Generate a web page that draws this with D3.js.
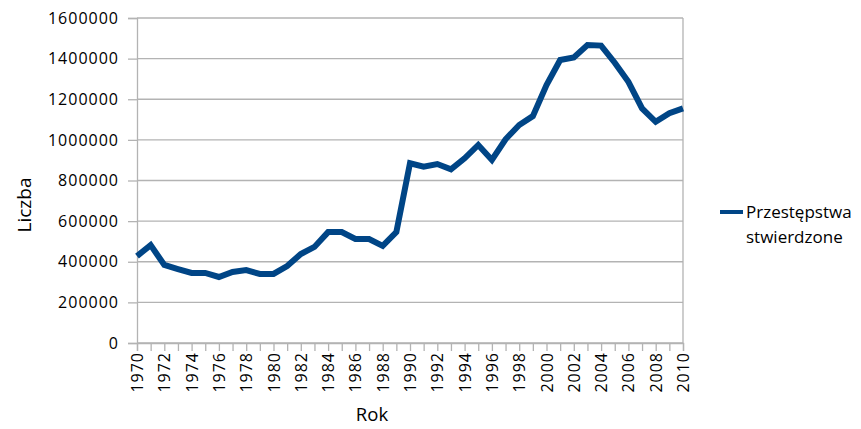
<!DOCTYPE html>
<html>
<head>
<meta charset="utf-8">
<script src="https://cdn.jsdelivr.net/npm/d3@7"></script>
<style>
  html, body { margin: 0; padding: 0; background: #fff; }
  svg { display: block; }
  text { font-family: "Open Sans", "DejaVu Sans", sans-serif; fill: #000; }
</style>
</head>
<body>
<svg id="chart" width="861" height="429"></svg>
<script>
// Stwierdzone przestępstwa w latach 1970–2010
const years = d3.range(1970, 2011);
const crimes = [
  428000, 482000, 384000, 364000, 345000, 345000, 325000, 350000, 359000, 340000,
  340000, 379000, 438000, 473000, 546000, 546000, 512000, 512000, 478000, 546000,
  885000, 868000, 881000, 855000, 909000, 975000, 901000, 1003000, 1073000, 1117000,
  1270000, 1393000, 1406000, 1467000, 1464000, 1380000, 1286000, 1155000, 1089000, 1131000,
  1155000
];
const yTicks = [0, 200000, 400000, 600000, 800000, 1000000, 1200000, 1400000, 1600000];
const xLabelYears = d3.range(1970, 2011, 2);
const seriesName = ["Przestępstwa", "stwierdzone"];

const svg = d3.select("#chart");
const plot = { left: 137, right: 683, top: 18, bottom: 343 };
const gridColor = "#b3b3b3";
const lineColor = "#004586";

const x = d3.scaleLinear().domain([1970, 2010]).range([plot.left, plot.right]);
const y = d3.scaleLinear().domain([0, 1600000]).range([plot.bottom, plot.top]);

// poziome linie siatki
svg.append("g").selectAll("line").data(yTicks).join("line")
  .attr("x1", plot.left).attr("x2", plot.right)
  .attr("y1", d => y(d)).attr("y2", d => y(d))
  .attr("stroke", gridColor).attr("stroke-width", 1.3);

// prawa krawędź obszaru wykresu
svg.append("line")
  .attr("x1", plot.right).attr("x2", plot.right).attr("y1", plot.top).attr("y2", plot.bottom)
  .attr("stroke", gridColor).attr("stroke-width", 1.3);

// oś Y
const yAxis = svg.append("g")
  .attr("transform", `translate(${plot.left},0)`)
  .call(d3.axisLeft(y).tickValues(yTicks).tickSize(9).tickPadding(9).tickFormat(d3.format("d")));
yAxis.select(".domain").attr("stroke", gridColor).attr("stroke-width", 1.3);
yAxis.selectAll(".tick line").attr("stroke", gridColor).attr("stroke-width", 1.3);
yAxis.selectAll("text")
  .style("font-size", "16px")
  .style("letter-spacing", "1px")
  .attr("fill", "#000");

// oś X
const xAxis = svg.append("g")
  .attr("transform", `translate(0,${plot.bottom})`)
  .call(d3.axisBottom(x).tickValues(years).tickSize(8).tickFormat(""));
xAxis.select(".domain").attr("stroke", gridColor).attr("stroke-width", 1.3);
xAxis.selectAll(".tick line").attr("stroke", gridColor).attr("stroke-width", 1.3);

svg.append("g").selectAll("text").data(xLabelYears).join("text")
  .attr("transform", d => `translate(${x(d) + 6},${plot.bottom + 9}) rotate(-90)`)
  .attr("text-anchor", "end")
  .style("font-size", "16px")
  .style("letter-spacing", "1px")
  .text(d => d);

// seria danych
const line = d3.line().x((d, i) => x(years[i])).y(d => y(d));
svg.append("path")
  .datum(crimes)
  .attr("d", line)
  .attr("fill", "none")
  .attr("stroke", lineColor)
  .attr("stroke-width", 6)
  .attr("stroke-linejoin", "miter");

// tytuły osi
svg.append("text")
  .attr("x", 372).attr("y", 421)
  .attr("text-anchor", "middle")
  .style("font-size", "18.5px")
  .text("Rok");

svg.append("text")
  .attr("transform", `translate(31,205) rotate(-90)`)
  .attr("text-anchor", "middle")
  .style("font-size", "19px")
  .text("Liczba");

// legenda
svg.append("line")
  .attr("x1", 720).attr("x2", 743).attr("y1", 212).attr("y2", 212)
  .attr("stroke", lineColor).attr("stroke-width", 4);
svg.append("g").selectAll("text").data(seriesName).join("text")
  .attr("x", 746).attr("y", (d, i) => 218 + i * 25)
  .style("font-size", "17px")
  .text(d => d);
</script>
</body>
</html>
